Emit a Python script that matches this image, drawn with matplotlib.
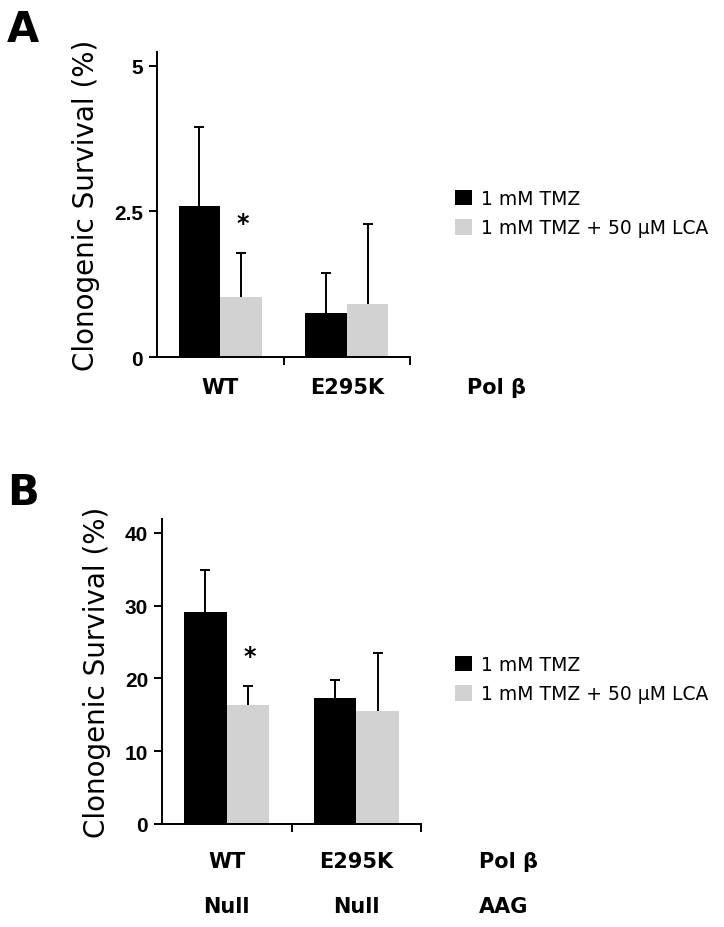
import matplotlib
matplotlib.use("Agg")
import matplotlib.pyplot as plt
import numpy as np
from matplotlib.patches import Patch

# data
groups = ["WT", "E295K"]
aag = ["Null", "Null"]
series = ["1 mM TMZ", "1 mM TMZ + 50 µM LCA"]
colors = ["#000000", "#d2d2d2"]

a_tmz = [2.59, 0.76]
a_tmz_err = [1.36, 0.68]
a_lca = [1.03, 0.91]
a_lca_err = [0.76, 1.38]

b_tmz = [29.1, 17.3]
b_tmz_err = [5.8, 2.5]
b_lca = [16.3, 15.5]
b_lca_err = [2.7, 8.0]

a_ticks = [0, 2.5, 5]
a_ticklabels = ["0", "2.5", "5"]
b_ticks = [0, 10, 20, 30, 40]

LABEL_FONT = "DejaVu Sans"
TICK_FONT = "Liberation Sans"

fig = plt.figure(figsize=(7.24, 9.28), dpi=100)
W, H = 724, 928


def make_axes(left, right, top, bottom):
    return fig.add_axes([left / W, 1 - bottom / H, (right - left) / W, (bottom - top) / H])


def draw_panel(ax, tmz, tmz_err, lca, lca_err, ylim, ticks, ticklabels, star_y):
    x = np.arange(len(groups))
    w = 0.33
    for xs, vals, errs, c in [(x - w / 2, tmz, tmz_err, colors[0]),
                              (x + w / 2, lca, lca_err, colors[1])]:
        ax.bar(xs, vals, width=w, color=c, edgecolor="none", zorder=2)
        eb = ax.errorbar(xs, vals, yerr=[np.zeros(len(errs)), errs], fmt="none",
                         ecolor="black", elinewidth=1.4, capsize=3.5, capthick=1.4, zorder=3)
        # upper error only: hide the cap sitting on the bar top
        eb[1][0].set_visible(False)
    ax.text(x[0] + w / 2 + 0.01, star_y, "*", ha="center", va="center",
            fontsize=17, fontweight="bold", family=LABEL_FONT)
    ax.set_xlim(-0.5, 1.5)
    ax.set_ylim(*ylim)
    ax.set_xticks([0.5, 1.5])
    ax.set_xticklabels([])
    ax.set_yticks(ticks)
    ax.set_yticklabels(ticklabels, fontsize=15, fontweight="bold", family=TICK_FONT)
    ax.tick_params(axis="both", direction="out", length=6, width=1.4, pad=4)
    for s in ["top", "right"]:
        ax.spines[s].set_visible(False)
    for s in ["left", "bottom"]:
        ax.spines[s].set_linewidth(1.4)
    ax.set_ylabel("Clonogenic Survival (%)", fontsize=20, family=LABEL_FONT, labelpad=10)
    handles = [Patch(facecolor=c, edgecolor="none") for c in colors]
    return handles


legend_kw = dict(loc="upper left", frameon=False, handlelength=0.9, handleheight=0.9,
                 handletextpad=0.5, labelspacing=0.55, prop={"family": LABEL_FONT, "size": 13.5})

# Panel A
axA = make_axes(157, 410, 53, 358)
hA = draw_panel(axA, a_tmz, a_tmz_err, a_lca, a_lca_err, (0, 5.24),
                a_ticks, a_ticklabels, 2.3)
fig.text(7 / W, 1 - 30 / H, "A", fontsize=30, fontweight="bold", family=LABEL_FONT, va="center")
for i, g in enumerate(groups):
    axA.text(i, -0.1, g, transform=axA.get_xaxis_transform(), ha="center", va="center",
             fontsize=15, fontweight="bold", family=LABEL_FONT)
axA.text(1.95, -0.1, "Pol β", transform=axA.get_xaxis_transform(), ha="left", va="center",
         fontsize=15, fontweight="bold", family=LABEL_FONT)
fig.legend(hA, series, bbox_to_anchor=(438 / W, 1 - 173 / H), **legend_kw)

# Panel B
axB = make_axes(162, 421, 520, 825)
hB = draw_panel(axB, b_tmz, b_tmz_err, b_lca, b_lca_err, (0, 41.9),
                b_ticks, [str(t) for t in b_ticks], 23.1)
fig.text(7 / W, 1 - 493 / H, "B", fontsize=30, fontweight="bold", family=LABEL_FONT, va="center")
for i, g in enumerate(groups):
    axB.text(i, -0.12, g, transform=axB.get_xaxis_transform(), ha="center", va="center",
             fontsize=15, fontweight="bold", family=LABEL_FONT)
    axB.text(i, -0.27, aag[i], transform=axB.get_xaxis_transform(), ha="center", va="center",
             fontsize=15, fontweight="bold", family=LABEL_FONT)
axB.text(1.95, -0.12, "Pol β", transform=axB.get_xaxis_transform(), ha="left", va="center",
         fontsize=15, fontweight="bold", family=LABEL_FONT)
axB.text(1.95, -0.27, "AAG", transform=axB.get_xaxis_transform(), ha="left", va="center",
         fontsize=15, fontweight="bold", family=LABEL_FONT)
fig.legend(hB, series, bbox_to_anchor=(438 / W, 1 - 639 / H), **legend_kw)

fig.savefig("out.png", dpi=100)
